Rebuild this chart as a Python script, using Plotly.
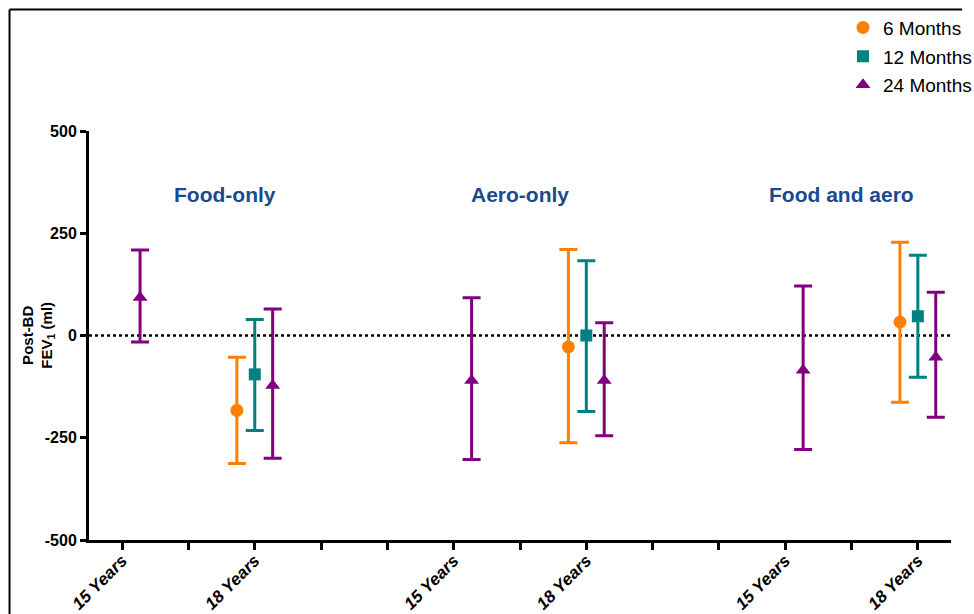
import plotly.graph_objects as go

# Study arms and age at measurement
groups = ["Food-only", "Aero-only", "Food and aero"]
ages = ["15 Years", "18 Years"]

# Change in post-BD FEV1 (ml): point estimate with lower/upper limits,
# one slot per (group, age); None where no estimate exists
m6_mean = [None, -183, None, -28, None, 33]
m6_low = [None, -313, None, -262, None, -163]
m6_high = [None, -53, None, 210, None, 228]

m12_mean = [None, -95, None, 0, None, 47]
m12_low = [None, -232, None, -186, None, -102]
m12_high = [None, 39, None, 183, None, 196]

m24_mean = [93, -122, -110, -110, -85, -53]
m24_low = [-16, -300, -303, -245, -279, -200]
m24_high = [209, 65, 92, 31, 121, 106]

series = [
    ("6 Months", "#FF8000", "circle", -0.27, m6_mean, m6_low, m6_high),
    ("12 Months", "#008080", "square", 0.0, m12_mean, m12_low, m12_high),
    ("24 Months", "#800080", "triangle-up", 0.27, m24_mean, m24_low, m24_high),
]

# category slot positions on the x axis: groups are 5 units apart, ages 2 units
slot_pos = [1 + 5 * g + 2 * a for g in range(len(groups)) for a in range(len(ages))]
slot_text = [ages[a] for g in range(len(groups)) for a in range(len(ages))]

FONT = "Arial, Liberation Sans, sans-serif"
fig = go.Figure()

for name, color, symbol, offset, mean, low, high in series:
    xs, ys, up, dn = [], [], [], []
    for pos, mval, lo, hi in zip(slot_pos, mean, low, high):
        if mval is None:
            continue
        xs.append(pos + offset)
        ys.append(mval)
        up.append(hi - mval)
        dn.append(mval - lo)
    fig.add_trace(go.Scatter(
        x=xs, y=ys, mode="markers", name=name, legendgroup=name,
        marker=dict(symbol=symbol, color=color, size=13 if symbol != "square" else 12),
        error_y=dict(type="data", symmetric=False, array=up, arrayminus=dn,
                     color=color, thickness=3, width=9),
    ))

# dotted zero reference line
fig.add_shape(type="line", xref="x", yref="y", x0=0.5, x1=13.5, y0=0, y1=0,
              line=dict(color="black", width=2.5, dash="dot"), layer="below")

# group headings
title_x = [2.55, 7.0, 11.85]
for gx, label in zip(title_x, groups):
    fig.add_annotation(x=gx, y=345, xref="x", yref="y", text=f"<b>{label}</b>",
                       showarrow=False, font=dict(family=FONT, size=21, color="#1B4A8C"))

# y-axis title
fig.add_annotation(x=-0.059, y=0.5, xref="paper", yref="paper",
                   xanchor="center", yanchor="middle",
                   text="<b>Post-BD<br>FEV<sub>1</sub> (ml)</b>", textangle=-90,
                   showarrow=False, font=dict(family=FONT, size=15, color="black"))

# outer frame (left and top edges)
fig.add_shape(type="line", xref="paper", yref="paper", x0=-0.0922, x1=1.013,
              y0=1.297, y1=1.297, line=dict(color="black", width=2))
fig.add_shape(type="line", xref="paper", yref="paper", x0=-0.0922, x1=-0.0922,
              y0=1.297, y1=-0.2, line=dict(color="black", width=2))

tickvals = list(range(1, 14))
ticktext = [slot_text[slot_pos.index(v)] if v in slot_pos else "" for v in tickvals]

fig.update_layout(
    width=974, height=614,
    margin=dict(l=89, r=23, t=131, b=74, autoexpand=False),
    paper_bgcolor="white", plot_bgcolor="white",
    font=dict(family=FONT, color="black"),
    showlegend=True,
    legend=dict(xref="container", yref="container", x=0.8655, y=0.986,
                xanchor="left", yanchor="top",
                font=dict(family=FONT, size=19, color="black"),
                tracegroupgap=1, bgcolor="rgba(0,0,0,0)"),
    xaxis=dict(range=[0.5, 13.5], tickvals=tickvals, ticktext=[
        f"<b><i>{t}</i></b>" if t else "" for t in ticktext],
        tickangle=-45, ticks="outside", ticklen=7, tickwidth=3, tickcolor="black",
        ticklabelstandoff=-6,
        showline=True, linewidth=3, linecolor="black", showgrid=False, zeroline=False,
        automargin=False,
        tickfont=dict(family=FONT, size=17, color="black")),
    yaxis=dict(range=[-500, 500], tickvals=[-500, -250, 0, 250, 500],
               ticktext=["<b>-500</b>", "<b>-250</b>", "<b>0</b>", "<b>250</b>", "<b>500</b>"],
               ticks="outside", ticklen=6, tickwidth=3, tickcolor="black",
               showline=True, linewidth=3, linecolor="black", showgrid=False, zeroline=False,
               automargin=False,
               tickfont=dict(family=FONT, size=16, color="black")),
)

fig.write_html("out.html")
